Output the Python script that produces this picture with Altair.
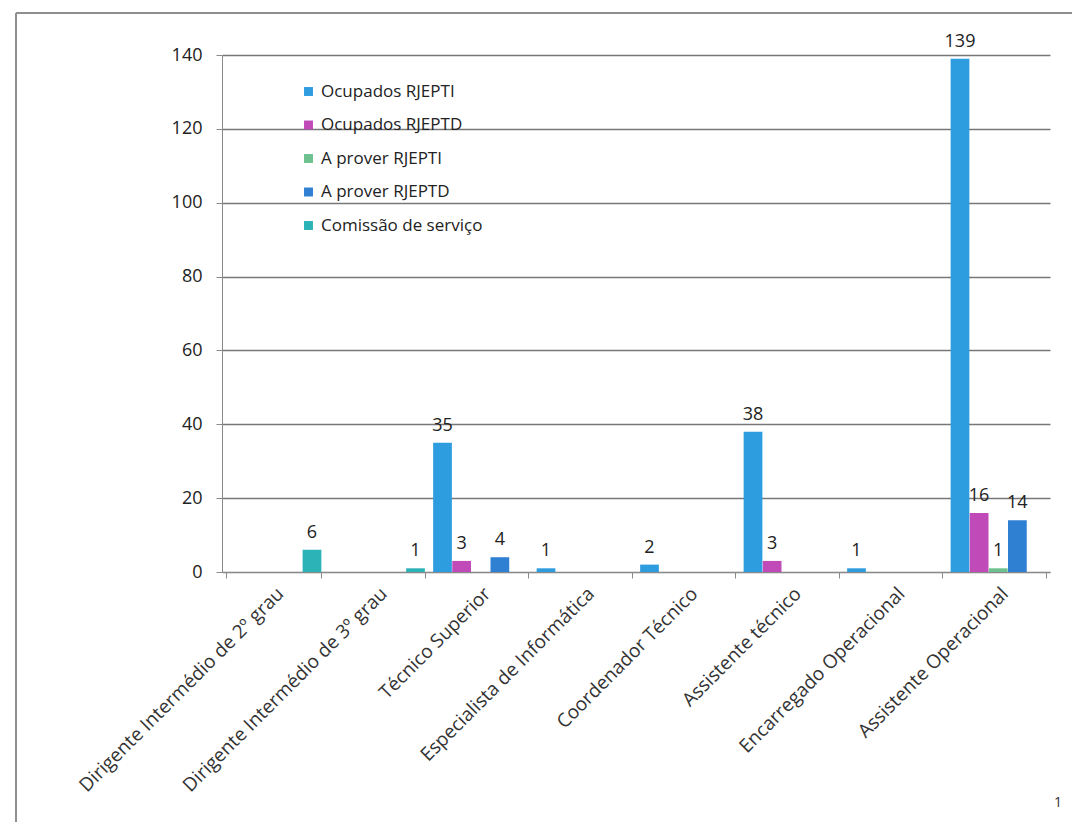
import altair as alt
import pandas as pd

categories = [
    "Dirigente Intermédio de 2º grau",
    "Dirigente Intermédio de 3º grau",
    "Técnico Superior",
    "Especialista de Informática",
    "Coordenador Técnico",
    "Assistente técnico",
    "Encarregado Operacional",
    "Assistente Operacional",
]
series = [
    "Ocupados RJEPTI",
    "Ocupados RJEPTD",
    "A prover RJEPTI",
    "A prover RJEPTD",
    "Comissão de serviço",
]
ocupados_rjepti = [0, 0, 35, 1, 2, 38, 1, 139]
ocupados_rjeptd = [0, 0, 3, 0, 0, 3, 0, 16]
a_prover_rjepti = [0, 0, 0, 0, 0, 0, 0, 1]
a_prover_rjeptd = [0, 0, 4, 0, 0, 0, 0, 14]
comissao_servico = [6, 1, 0, 0, 0, 0, 0, 0]
colors = ["#2e9de0", "#c04ab8", "#6cc18e", "#2f7fd3", "#2bb3b8"]
y_ticks = [0, 20, 40, 60, 80, 100, 120, 140]

values = [ocupados_rjepti, ocupados_rjeptd, a_prover_rjepti, a_prover_rjeptd, comissao_servico]
rows = []
for s, vals in zip(series, values):
    for c, v in zip(categories, vals):
        rows.append({"Categoria": c, "Série": s, "Valor": v})
df = pd.DataFrame(rows)

FONT = "Open Sans"

x = alt.X("Categoria:N", sort=categories, title=None,
          scale=alt.Scale(paddingInner=0.08, paddingOuter=0.04),
          axis=alt.Axis(labelAngle=-45, labelFontSize=19, labelColor="#333333",
                        labelLimit=500, labelPadding=6, tickBand="extent",
                        domainColor="#8a8a8a", tickColor="#8a8a8a", tickSize=6,
                        labelFont=FONT))
xoff = alt.XOffset("Série:N", sort=series, scale=alt.Scale(paddingInner=0.02))
y = alt.Y("Valor:Q", title=None,
          scale=alt.Scale(domain=[0, 140]),
          axis=alt.Axis(values=y_ticks, labelFontSize=18,
                        labelColor="#222222", labelPadding=14, tickSize=6,
                        tickColor="#8a8a8a", domainColor="#8a8a8a",
                        gridColor="#777777", gridWidth=1.6, labelFont=FONT))

bars = alt.Chart(df).mark_bar().encode(
    x=x, xOffset=xoff, y=y,
    color=alt.Color("Série:N", sort=series,
                    scale=alt.Scale(domain=series, range=colors),
                    legend=alt.Legend(title=None, orient="none", legendX=78, legendY=28,
                                      labelFontSize=17, labelFont=FONT, labelColor="#222222",
                                      labelLimit=400,
                                      symbolType="square", symbolSize=80,
                                      symbolStrokeWidth=0, rowPadding=15.5,
                                      labelOffset=4)),
)

labels = alt.Chart(df).transform_filter("datum.Valor > 0").mark_text(
    baseline="alphabetic", dy=-12, fontSize=18, font=FONT, color="#222222"
).encode(x=x, xOffset=xoff, y=y, text=alt.Text("Valor:Q"))

frame_df = pd.DataFrame({"k": [0]})
left_border = alt.Chart(frame_df).mark_rule(color="#8f8f8f", strokeWidth=2).encode(
    x=alt.value(-206), y=alt.value(-42), y2=alt.value(780))
top_border = alt.Chart(frame_df).mark_rule(color="#8f8f8f", strokeWidth=2).encode(
    x=alt.value(-206), x2=alt.value(850), y=alt.value(-42))
page_num = alt.Chart(frame_df).mark_text(fontSize=14, font=FONT, color="#333333").encode(
    x=alt.value(836), y=alt.value(748), text=alt.value("1"))

chart = alt.layer(bars, labels, left_border, top_border, page_num).properties(
    width=828, height=517,
    autosize=alt.AutoSizeParams(type="none"),
    padding={"left": 214, "top": 47, "right": 22, "bottom": 250},
).configure_view(stroke=None)

chart.save("out.html", embed_options={"renderer": "svg", "actions": False})
